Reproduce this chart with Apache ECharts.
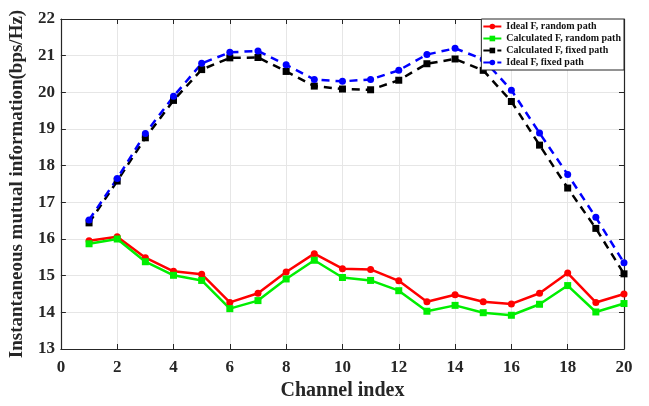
<!DOCTYPE html>
<html><head><meta charset="utf-8">
<script src="https://cdn.jsdelivr.net/npm/echarts@6/dist/echarts.min.js"></script>
<style>html,body{margin:0;padding:0;background:#fff}#c{width:649px;height:406px}</style>
</head><body><div id="c"></div>
<script>
const channels = [1,2,3,4,5,6,7,8,9,10,11,12,13,14,15,16,17,18,19,20];
const idealRandom = [15.95,16.06,15.49,15.12,15.04,14.27,14.52,15.10,15.60,15.19,15.17,14.86,14.29,14.48,14.29,14.23,14.52,15.07,14.27,14.50];
const calcRandom = [15.87,16.00,15.38,15.01,14.87,14.10,14.32,14.91,15.42,14.95,14.87,14.59,14.03,14.19,13.99,13.92,14.22,14.73,14.01,14.24];
const calcFixed = [16.44,17.58,18.76,19.78,20.62,20.94,20.95,20.57,20.17,20.09,20.07,20.33,20.78,20.91,20.60,19.75,18.56,17.39,16.29,15.05];
const idealFixed = [16.52,17.65,18.88,19.89,20.79,21.09,21.13,20.75,20.35,20.30,20.35,20.60,21.03,21.20,20.90,20.06,18.89,17.76,16.59,15.35];
const seriesNames = ['Ideal F, random path','Calculated F, random path','Calculated F, fixed path','Ideal F, fixed path'];

const font = '"Liberation Serif","Times New Roman",serif';
const axisCol = '#262626';
function pts(arr){ return arr.map((v,i)=>[channels[i], v]); }
function mk(name, data, color, symbol, dashed){
  return {name, type:'line', data:pts(data), symbol, symbolSize:7,
    showSymbol:true, itemStyle:{color}, lineStyle:{color, width:2.5, type: dashed?[8,6]:'solid'},
    emphasis:{disabled:true}, animation:false, z: dashed?3:2};
}
const chart = echarts.init(document.getElementById('c'), null, {renderer:'canvas'});
chart.setOption({
  animation:false,
  backgroundColor:'#fff',
  grid:{left:55, right:25, top:19, bottom:49, containLabel:false},
  legend:{
    orient:'vertical', right:25, top:19, itemGap:1, itemWidth:18, itemHeight:7,
    backgroundColor:'#fff', borderColor:axisCol, borderWidth:1, padding:[2,3,2,1],
    textStyle:{fontFamily:font, fontWeight:'bold', fontSize:10, lineHeight:11, color:'#111'},
    data:seriesNames
  },
  xAxis:[{
    type:'value', min:0, max:20, interval:2,
    name:'Channel index', nameLocation:'middle', nameGap:32,
    nameTextStyle:{fontFamily:font, fontWeight:'bold', fontSize:20, color:'#262626'},
    axisLine:{show:true, onZero:false, lineStyle:{color:axisCol, width:1.2}},
    axisTick:{show:true, inside:true, length:5, lineStyle:{color:axisCol}},
    axisLabel:{fontFamily:font, fontWeight:'bold', fontSize:17, color:'#262626', margin:10},
    splitLine:{show:true, lineStyle:{color:'#e6e6e6', width:1}}
  },{
    type:'value', min:0, max:20, interval:2, position:'top',
    axisLine:{show:true, onZero:false, lineStyle:{color:axisCol, width:1.2}},
    axisTick:{show:true, inside:true, length:5, lineStyle:{color:axisCol}},
    axisLabel:{show:false}, splitLine:{show:false}
  }],
  yAxis:[{
    type:'value', min:13, max:22, interval:1,
    name:'Instantaneous mutual information(bps/Hz)', nameLocation:'middle', nameGap:28,
    nameTextStyle:{fontFamily:font, fontWeight:'bold', fontSize:19, color:'#262626'},
    axisLine:{show:true, onZero:false, lineStyle:{color:axisCol, width:1.2}},
    axisTick:{show:true, inside:true, length:5, lineStyle:{color:axisCol}},
    axisLabel:{fontFamily:font, fontWeight:'bold', fontSize:17, color:'#262626', margin:6},
    splitLine:{show:true, lineStyle:{color:'#e6e6e6', width:1}}
  },{
    type:'value', min:13, max:22, interval:1, position:'right',
    axisLine:{show:true, onZero:false, lineStyle:{color:axisCol, width:1.2}},
    axisTick:{show:true, inside:true, length:5, lineStyle:{color:axisCol}},
    axisLabel:{show:false}, splitLine:{show:false}
  }],
  series:[
    mk(seriesNames[0], idealRandom, '#ff0000', 'circle', false),
    mk(seriesNames[1], calcRandom, '#00ee00', 'rect', false),
    mk(seriesNames[2], calcFixed, '#000000', 'rect', true),
    mk(seriesNames[3], idealFixed, '#0000ff', 'circle', true)
  ]
});
</script></body></html>
